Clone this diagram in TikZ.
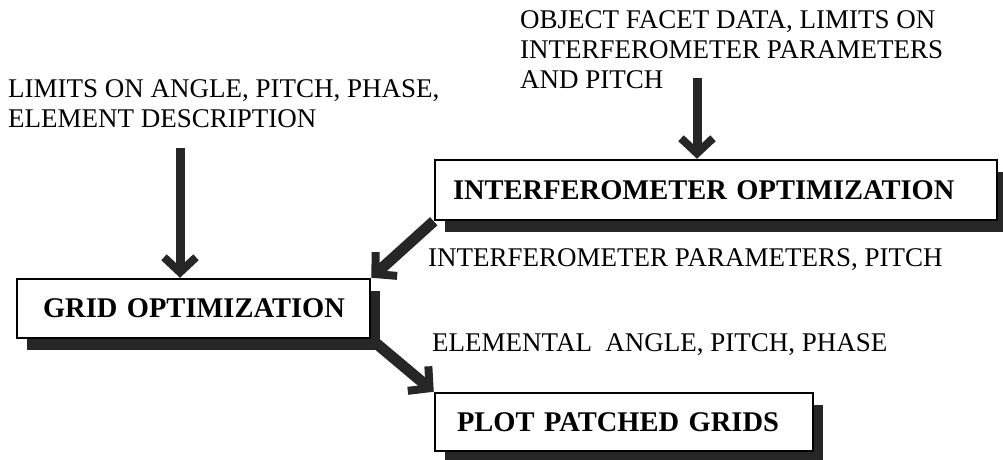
\documentclass[tikz,border=0pt]{standalone}
\usepackage{fontspec}
\setmainfont{Liberation Serif}
\usetikzlibrary{arrows.meta,shadows}
\begin{document}
\begin{tikzpicture}[x=1pt,y=-1pt,
  box/.style={draw=black, line width=2.5pt, fill=white,
    font=\fontsize{28.5}{30}\selectfont\bfseries, align=left, inner ysep=0pt,
    drop shadow={shadow xshift=10pt, shadow yshift=-12pt, fill=black!85, opacity=1}},
  lbl/.style={font=\fontsize{27}{30}\selectfont, inner sep=0pt, align=left},
  bigarrow/.style={draw=black!85, line width=#1,
    -{Straight Barb[length=15pt, width=32pt, line width=8pt, line join=miter, line cap=butt]}},
  bigarrow/.default=9pt]
\useasboundingbox (0,0) rectangle (1003,460);

\node[box, text width=526pt, inner xsep=18pt, minimum height=60pt] (intf) at (716,190) {\mbox{INTERFEROMETER OPTIMIZATION}};
\node[box, text width=301pt, inner xsep=26pt, minimum height=59pt] (grid) at (193.5,308.5) {\mbox{GRID OPTIMIZATION}};
\node[box, text width=334pt, inner xsep=22pt, minimum height=58pt] (plot) at (624,422) {\mbox{PLOT PATCHED GRIDS}};

\node[lbl, anchor=north west] (topin) at (520,10) {OBJECT FACET DATA, LIMITS ON\\INTERFEROMETER PARAMETERS\\AND PITCH};
\node[lbl, anchor=north west] (leftin) at (8,79) {LIMITS ON ANGLE, PITCH, PHASE,\\ELEMENT DESCRIPTION};
\node[lbl, anchor=base west] (ipl) at (428,266) {INTERFEROMETER PARAMETERS, PITCH};
\node[lbl, anchor=base west] (eapl) at (432,351) {ELEMENTAL\ \ ANGLE, PITCH, PHASE};

\coordinate (a1) at (697,78);
\draw[bigarrow] (a1) -- (a1 |- intf.north);
\coordinate (a2) at (180,148);
\draw[bigarrow] (a2) -- (a2 |- grid.north);
\draw[bigarrow=11pt] (intf.south west) -- (grid.north east);
\draw[bigarrow=11pt] (grid.south east) -- (plot.north west);
\end{tikzpicture}
\end{document}
